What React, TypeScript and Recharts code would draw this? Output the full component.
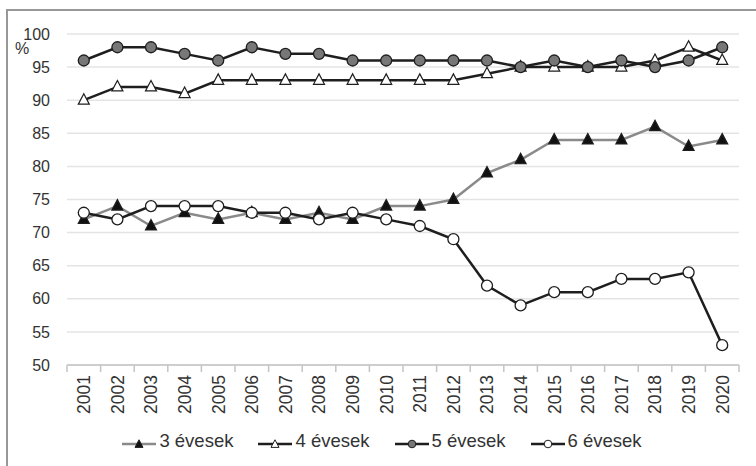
import React from 'react';
import { LineChart, Line, XAxis, YAxis, CartesianGrid, Legend } from 'recharts';

const years = ['2001', '2002', '2003', '2004', '2005', '2006', '2007', '2008', '2009', '2010',
  '2011', '2012', '2013', '2014', '2015', '2016', '2017', '2018', '2019', '2020'];
const age3 = [72, 74, 71, 73, 72, 73, 72, 73, 72, 74, 74, 75, 79, 81, 84, 84, 84, 86, 83, 84];
const age4 = [90, 92, 92, 91, 93, 93, 93, 93, 93, 93, 93, 93, 94, 95, 95, 95, 95, 96, 98, 96];
const age5 = [96, 98, 98, 97, 96, 98, 97, 97, 96, 96, 96, 96, 96, 95, 96, 95, 96, 95, 96, 98];
const age6 = [73, 72, 74, 74, 74, 73, 73, 72, 73, 72, 71, 69, 62, 59, 61, 61, 63, 63, 64, 53];
const yTicks = [50, 55, 60, 65, 70, 75, 80, 85, 90, 95, 100];
const seriesNames = ['3 évesek', '4 évesek', '5 évesek', '6 évesek'];
const yUnit = '%';

const data = years.map((y, i) => ({ year: y, a3: age3[i], a4: age4[i], a5: age5[i], a6: age6[i] }));

const W = 756;
const H = 466;
const MARGIN = { top: 34, right: 17, left: 0, bottom: 41 };
const YAXIS_W = 67;
const plotW = W - MARGIN.left - MARGIN.right - YAXIS_W;
const band = plotW / years.length;

const DARK = '#1e1e1e';
const GRAY_LINE = '#8a8a8a';
const AXIS = '#c4c4c4';
const TEXT = '#333333';
const FRAME = '#989898';
const FONT = '"Liberation Sans", Arial, Helvetica, sans-serif';

const XTick = (props: any) => {
  const { x, y, payload } = props;
  const isLast = years.indexOf(String(payload.value)) === years.length - 1;
  return (
    <g transform={`translate(${x},${y})`}>
      <line x1={-band / 2} x2={-band / 2} y1={0} y2={7} stroke={AXIS} strokeWidth={1.5} />
      {isLast && <line x1={band / 2} x2={band / 2} y1={0} y2={7} stroke={AXIS} strokeWidth={1.5} />}
      <text transform="rotate(-90)" x={-10} y={0} dy="0.36em" textAnchor="end" fontSize={17.5} fill={TEXT} fontFamily={FONT}>
        {payload.value}
      </text>
    </g>
  );
};

const triPath = (cx: number, cy: number, s: number) =>
  `M${cx},${cy - s * 1.18} L${cx + s},${cy + s * 0.72} L${cx - s},${cy + s * 0.72} Z`;

const triDot = (fill: string) => (p: any) => {
  const { cx, cy, index } = p;
  if (cx == null || cy == null) return <g key={`t-${index}`} />;
  return <path key={`t-${index}`} d={triPath(cx, cy, 5.5)} fill={fill} stroke={DARK} strokeWidth={1.2} />;
};

const circDot = (fill: string) => (p: any) => {
  const { cx, cy, index } = p;
  if (cx == null || cy == null) return <g key={`c-${index}`} />;
  return <circle key={`c-${index}`} cx={cx} cy={cy} r={5.5} fill={fill} stroke={DARK} strokeWidth={1.3} />;
};

const legendDefs = [
  { name: seriesNames[0], line: GRAY_LINE, marker: 'tri', fill: '#111' },
  { name: seriesNames[1], line: DARK, marker: 'tri', fill: '#fff' },
  { name: seriesNames[2], line: DARK, marker: 'circ', fill: '#777' },
  { name: seriesNames[3], line: DARK, marker: 'circ', fill: '#fff' },
];

const LegendContent = () => (
  <div style={{ display: 'flex', justifyContent: 'center', alignItems: 'center', height: 24, fontFamily: FONT, paddingLeft: 8 }}>
    {legendDefs.map((d, i) => (
      <div key={d.name} style={{ display: 'flex', alignItems: 'center', marginLeft: i === 0 ? 0 : 25 }}>
        <svg width={34} height={14} style={{ marginTop: 6 }}>
          <line x1={0} x2={34} y1={7} y2={7} stroke={d.line} strokeWidth={2.5} />
          {d.marker === 'tri' ? (
            <path d={triPath(17, 7.5, 4)} fill={d.fill} stroke={DARK} strokeWidth={1} />
          ) : (
            <circle cx={17} cy={7} r={3.8} fill={d.fill} stroke={DARK} strokeWidth={1} />
          )}
        </svg>
        <span style={{ fontSize: 18.5, color: TEXT, marginLeft: 3, lineHeight: '24px' }}>{d.name}</span>
      </div>
    ))}
  </div>
);

export default function App() {
  return (
    <div style={{ position: 'relative', width: W, height: H, overflow: 'hidden', background: '#fff', fontFamily: FONT }}>
      <style>{`html,body{margin:0;padding:0;background:#fff;}`}</style>
      <div style={{ position: 'absolute', left: 0, top: 0 }}>
        <LineChart width={W} height={H} data={data} margin={MARGIN}>
          <CartesianGrid vertical={false} stroke="#e4e4e4" strokeWidth={1.5} />
          <XAxis
            dataKey="year"
            interval={0}
            tickLine={false}
            tickSize={0}
            tickMargin={0}
            height={60}
            axisLine={{ stroke: AXIS, strokeWidth: 1.5 }}
            padding={{ left: band / 2, right: band / 2 }}
            tick={<XTick />}
          />
          <YAxis
            type="number"
            domain={[50, 100]}
            ticks={yTicks}
            width={YAXIS_W}
            axisLine={false}
            tickLine={false}
            tickSize={0}
            tickMargin={17}
            tick={{ fontSize: 16, fill: TEXT, fontFamily: FONT }}
          />
          <Legend
            verticalAlign="middle"
            align="center"
            layout="horizontal"
            wrapperStyle={{ top: 429, left: 0, width: W, height: 24 }}
            content={<LegendContent />}
          />
          <Line dataKey="a3" name={seriesNames[0]} stroke={GRAY_LINE} strokeWidth={2.5} dot={triDot('#111')} isAnimationActive={false} />
          <Line dataKey="a4" name={seriesNames[1]} stroke={DARK} strokeWidth={2.5} dot={triDot('#fff')} isAnimationActive={false} />
          <Line dataKey="a5" name={seriesNames[2]} stroke={DARK} strokeWidth={2.5} dot={circDot('#777')} isAnimationActive={false} />
          <Line dataKey="a6" name={seriesNames[3]} stroke={DARK} strokeWidth={2.5} dot={circDot('#fff')} isAnimationActive={false} />
        </LineChart>
      </div>
      <div style={{ position: 'absolute', left: 15, top: 40, fontSize: 16, color: TEXT, lineHeight: '18px', zIndex: 2 }}>{yUnit}</div>
      <div
        style={{
          position: 'absolute',
          left: 6,
          top: 9,
          width: 900,
          height: 700,
          borderTop: `2px solid ${FRAME}`,
          borderLeft: `2px solid ${FRAME}`,
          boxSizing: 'border-box',
          pointerEvents: 'none',
          zIndex: 3,
        }}
      />
    </div>
  );
}
